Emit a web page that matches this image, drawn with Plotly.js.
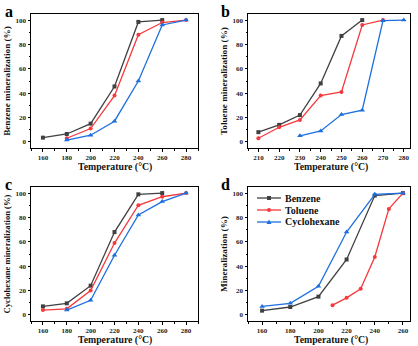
<!DOCTYPE html>
<html><head><meta charset="utf-8">
<script src="https://cdn.plot.ly/plotly-3.0.1.min.js"></script>
<style>html,body{margin:0;padding:0;background:#fff}#c{width:418px;height:346px}</style>
</head><body><div id="c"></div>
<script>
// Panel a: Benzene mineralization
const aTempK = [160,180,200,220,240,260];
const aValK  = [3.5,6.5,15,45.5,98.5,100];
const aTempR = [180,200,220,240,260,280];
const aValR  = [3,11,38,88,98,100];
const aTempB = [180,200,220,240,260,280];
const aValB  = [1.5,5.5,17,50,96,100];
// Panel b: Toluene mineralization
const bTempK = [210,220,230,240,250,260];
const bValK  = [8,14,22,48,87,100];
const bTempR = [210,220,230,240,250,260,270];
const bValR  = [3,12,18,38,41,96,100];
const bTempB = [230,240,250,260,270,280];
const bValB  = [5,9,22.5,26,99.5,100];
// Panel c: Cyclohexane mineralization
const cTempK = [160,180,200,220,240,260];
const cValK  = [7,9.5,24,68,99,100];
const cTempR = [160,180,200,220,240,260,280];
const cValR  = [4,5,20,59,90,97,100];
const cTempB = [180,200,220,240,260,280];
const cValB  = [4,12,49,82,93,100];
// Panel d: comparison
const dTempBenzene = [160,180,200,220,240,260];
const dValBenzene  = [3.5,6.5,15,45.5,98,100];
const dTempToluene = [210,220,230,240,250,260];
const dValToluene  = [8,14,21.5,47.5,87,100];
const dTempCyclo   = [160,180,200,220,240,260];
const dValCyclo    = [7,9.5,23.5,68,99,100];
const seriesNames = ['Benzene','Toluene','Cyclohexane'];
const xTicksA = [160,180,200,220,240,260,280];
const xTicksB = [210,220,230,240,250,260,270,280];
const xTicksD = [160,180,200,220,240,260];
const yTicks = [0,20,40,60,80,100];
const panelLetters = ['a','b','c','d'];
const yTitles = ['Benzene mineralization (%)','Toluene mineralization (%)','Cyclohexane mineralization (%)','Mineralization (%)'];
const xTitle = 'Temperature (°C)';

const K='#404040', R='#f5393c', B='#1d6fe0';
const FONT='Liberation Serif, Times New Roman, serif';
function tr(x,y,color,sym,ax,name){
  return {x:x,y:y,type:'scatter',mode:'lines+markers',name:name||'',showlegend:false,
    xaxis:'x'+ax, yaxis:'y'+ax,
    line:{color:color,width:1.3},
    marker:{color:color,symbol:sym,size:sym==='triangle-up'?5:4}};
}
const data=[
  tr(aTempK,aValK,K,'square',''),
  tr(aTempR,aValR,R,'circle',''),
  tr(aTempB,aValB,B,'triangle-up',''),
  tr(bTempK,bValK,K,'square','2'),
  tr(bTempR,bValR,R,'circle','2'),
  tr(bTempB,bValB,B,'triangle-up','2'),
  tr(cTempK,cValK,K,'square','3'),
  tr(cTempR,cValR,R,'circle','3'),
  tr(cTempB,cValB,B,'triangle-up','3'),
  tr(dTempBenzene,dValBenzene,K,'square','4',seriesNames[0]),
  tr(dTempToluene,dValToluene,R,'circle','4',seriesNames[1]),
  tr(dTempCyclo,dValCyclo,B,'triangle-up','4',seriesNames[2])
];
const W=418,H=346;
function xa(d0,d1,range,ticks,anchor,minorD){
  return {domain:[d0/W,d1/W],range:range,anchor:anchor,tickvals:ticks,
    showgrid:false,zeroline:false,showline:true,mirror:true,linecolor:'#000',linewidth:1,
    ticks:'outside',ticklen:2.5,tickwidth:1,tickcolor:'#000',
    minor:{dtick:minorD,ticklen:1.5,tickcolor:'#000',ticks:'outside',showgrid:false},
    tickfont:{family:FONT,size:7,color:'#222',weight:'bold'}};
}
function ya(t0,t1,anchor,title,fs){
  return {domain:[1-t1/H,1-t0/H],range:[-5,105],anchor:anchor,tickvals:yTicks,
    showgrid:false,zeroline:false,showline:true,mirror:true,linecolor:'#000',linewidth:1,
    ticks:'outside',ticklen:2.5,tickwidth:1,tickcolor:'#000',
    minor:{dtick:10,ticklen:1.5,tickcolor:'#000',ticks:'outside',showgrid:false},
    tickfont:{family:FONT,size:7,color:'#222',weight:'bold'},
    title:{text:title,font:{family:FONT,size:fs,color:'#111',weight:'bold'},standoff:3}};
}
// manual legend for panel d
const legColors=[K,R,B];
const legY=[198,210,222];
const shapes=[], anns=[];
for(let i=0;i<3;i++){
  const yp=1-legY[i]/H;
  shapes.push({type:'line',xref:'paper',yref:'paper',x0:257/W,x1:281/W,y0:yp,y1:yp,line:{color:legColors[i],width:1.3}});
  const cx=269/W, h=2/W, v=2/H;
  if(i===0) shapes.push({type:'rect',xref:'paper',yref:'paper',x0:cx-h,x1:cx+h,y0:yp-v,y1:yp+v,fillcolor:K,line:{width:0}});
  else if(i===1) shapes.push({type:'circle',xref:'paper',yref:'paper',x0:cx-h,x1:cx+h,y0:yp-v,y1:yp+v,fillcolor:R,line:{width:0}});
  else shapes.push({type:'path',xref:'paper',yref:'paper',path:`M ${cx-2.5/W} ${yp-2/H} L ${cx+2.5/W} ${yp-2/H} L ${cx} ${yp+2.5/H} Z`,fillcolor:B,line:{width:0}});
  anns.push({text:seriesNames[i],x:283/W,y:yp,xref:'paper',yref:'paper',xanchor:'left',yanchor:'middle',showarrow:false,
    font:{family:FONT,size:10,color:'#111',weight:'bold'}});
}
const letterPos=[[3,1],[219,1],[3,174],[219,174]];
letterPos.forEach((p,i)=>anns.push({text:panelLetters[i],x:p[0]/W,y:1-p[1]/H,xref:'paper',yref:'paper',xanchor:'left',yanchor:'top',showarrow:false,font:{family:FONT,size:16,color:'#000',weight:'bold'}}));
// x-axis titles
[[114.5,167],[331,167],[114.5,340],[331,340]].forEach(p=>anns.push({text:xTitle,x:p[0]/W,y:1-p[1]/H,xref:'paper',yref:'paper',xanchor:'center',yanchor:'middle',showarrow:false,font:{family:FONT,size:9.8,color:'#111',weight:'bold'}}));
const layout={
  width:W,height:H,margin:{l:0,r:0,t:0,b:0},paper_bgcolor:'#fff',plot_bgcolor:'#fff',
  xaxis:xa(31,198,[150,290],xTicksA,'y',10),
  yaxis:ya(14,148,'x',yTitles[0],9.2),
  xaxis2:xa(248,410,[205,283],xTicksB,'y2',5),
  yaxis2:ya(14,148,'x2',yTitles[1],9.2),
  xaxis3:xa(31,198,[150,290],xTicksA,'y3',10),
  yaxis3:ya(187,321,'x3',yTitles[2],8.6),
  xaxis4:xa(248,410,[150,265],xTicksD,'y4',10),
  yaxis4:ya(187,321,'x4',yTitles[3],9.2),
  showlegend:false,
  shapes:shapes,
  annotations:anns
};
Plotly.newPlot('c',data,layout,{staticPlot:true,displayModeBar:false});
</script></body></html>
